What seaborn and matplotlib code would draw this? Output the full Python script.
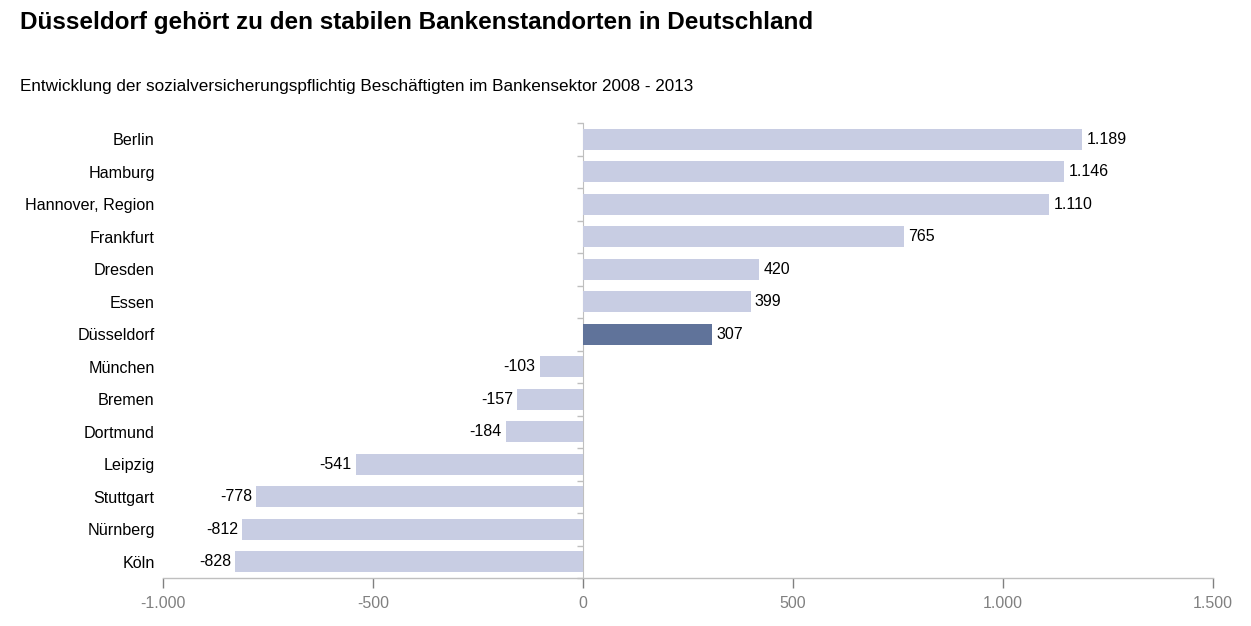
import matplotlib
matplotlib.use("Agg")
import matplotlib.pyplot as plt
import seaborn as sns
import numpy as np

# Daten: Veränderung der Beschäftigten im Bankensektor 2008 - 2013
staedte = ["Berlin", "Hamburg", "Hannover, Region", "Frankfurt", "Dresden", "Essen",
           "Düsseldorf", "München", "Bremen", "Dortmund", "Leipzig", "Stuttgart",
           "Nürnberg", "Köln"]
werte = [1189, 1146, 1110, 765, 420, 399, 307, -103, -157, -184, -541, -778, -812, -828]
hervorheben = ["Düsseldorf"]
x_ticks = [-1000, -500, 0, 500, 1000, 1500]

hell = "#c8cde3"
dunkel = "#60739a"
grau = "#bfbfbf"

sns.set_style("white")
plt.rcParams["font.family"] = ["Liberation Sans", "DejaVu Sans"]
plt.rcParams["text.color"] = "black"

gruppe = ["ja" if s in hervorheben else "nein" for s in staedte]

fig = plt.figure(figsize=(12.51, 6.26), dpi=100)
ax = fig.add_axes([163 / 1251, 48 / 626, 1050 / 1251, 455 / 626])

sns.barplot(x=werte, y=staedte, hue=gruppe, palette={"ja": dunkel, "nein": hell},
            order=staedte, orient="h", dodge=False, width=0.66, legend=False,
            saturation=1, linewidth=0, ax=ax)

def de(v):
    return f"{v:,.0f}".replace(",", ".")

for c in ax.containers:
    ax.bar_label(c, fmt=de, padding=3, fontsize=11.5, color="black")

ax.set_xlim(x_ticks[0], x_ticks[-1])
ax.set_ylim(len(staedte) - 0.5, -0.5)
ax.set_xticks(x_ticks)
ax.set_xticklabels([de(t) for t in x_ticks])
ax.tick_params(axis="x", colors="#808080", labelsize=11.5, length=7, width=1,
               direction="out", pad=6, bottom=True)
ax.tick_params(axis="y", length=0, labelsize=11.6, pad=6, labelcolor="black")
ax.set_xlabel("")
ax.set_ylabel("")

for s in ["top", "right", "left"]:
    ax.spines[s].set_visible(False)
ax.spines["bottom"].set_color(grau)
ax.spines["bottom"].set_linewidth(1)

# Nulllinie mit kleinen Trennstrichen zwischen den Kategorien
pos0 = (0 - x_ticks[0]) / (x_ticks[-1] - x_ticks[0])
sek = ax.secondary_yaxis(pos0)
sek.set_yticks(np.arange(-0.5, len(staedte), 1))
sek.set_yticklabels([])
sek.spines["left"].set_color(grau)
sek.tick_params(axis="y", length=4, color=grau, width=1, direction="out")

fig.text(20 / 1251, 1 - 22 / 626, "Düsseldorf gehört zu den stabilen Bankenstandorten in Deutschland",
         fontsize=17.5, fontweight="bold", va="center", ha="left", color="black")
fig.text(20 / 1251, 1 - 86 / 626,
         "Entwicklung der sozialversicherungspflichtig Beschäftigten im Bankensektor 2008 - 2013",
         fontsize=12.3, va="center", ha="left", color="black")

fig.savefig("out.png", dpi=100)
